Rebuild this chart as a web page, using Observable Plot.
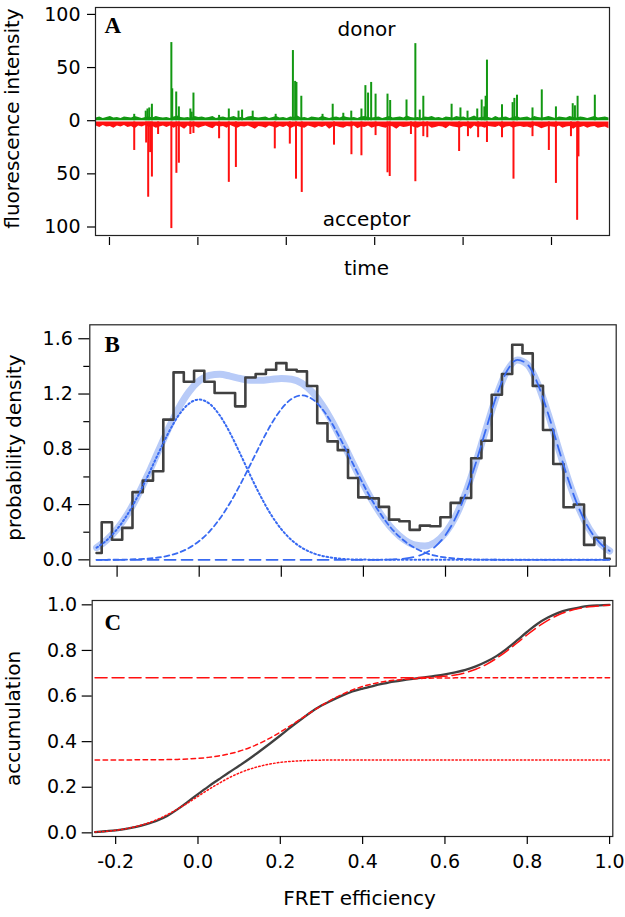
<!DOCTYPE html>
<html><head><meta charset="utf-8">
<script src="https://cdn.jsdelivr.net/npm/d3@7"></script>
<script src="https://cdn.jsdelivr.net/npm/@observablehq/plot@0.6"></script>
<style>
body{margin:0;background:#fff;}
#chart{width:625px;height:917px;position:relative;overflow:hidden;background:#fff;}
#chart svg{display:block;position:absolute;left:0;}
</style></head><body><div id="chart"></div>
<script>
// ---------- Panel A : time trace ----------
const timeTicks = [0, 100, 200, 300, 400, 500];
const intensityTicks = [100, 50, 0, -50, -100];
const noiseStart = -15, noiseStep = 4;
const donorNoise = [
2.5,3.5,2,3,4,2.5,3,2,3.5,3, 2.5,4,3,2,3,3.5,2.5,4,3,2.5, 3,2,3.5,4.5,3,2.5,3,2,4,3,
3.5,2.5,3,4,2,3,3.5,2.5,3,4, 2.5,3,2,3.5,4,3,2.5,3,3.5,2, 3,4,2.5,3,2,3.5,3,4.5,2.5,3,
2,3.5,3,2.5,4,3,2,3,3.5,2.5, 4,3,2.5,3,2,3.5,4,3,2.5,3, 3.5,2,3,4,2.5,3,3.5,2.5,4.5,3,
2.5,3,2,3.5,3,4,2.5,3,2,3.5, 3,2.5,4,3,3.5,2,3,4.5,2.5,3, 3.5,3,2,4,2.5,3,3.5,2,3,4,
2.5,3,3.5,2,4,3,2.5,3,4,3, 2,3.5,3,2.5,4,3,2.5,3.5,3,2, 3,4,2.5,3,3.5,2.5];
const acceptorNoise = [
-5,-6.5,-4.5,-6,-5.5,-7,-5,-6,-4.5,-6.5, -5.5,-7.5,-5,-6,-4.5,-6.5,-5.5,-7,-6,-5,
-6.5,-5,-7,-5.5,-6,-8,-5,-6.5,-5.5,-7, -6,-5,-6.5,-7.5,-5,-6,-5.5,-7,-4.5,-6,
-7,-5.5,-6,-5,-6.5,-8,-5.5,-6,-7,-5, -6,-7,-5.5,-6.5,-5,-7.5,-6,-5.5,-6.5,-7,
-5,-6,-7,-5.5,-6.5,-5,-8,-6,-5.5,-6.5, -7,-5.5,-6,-5,-7.5,-6,-6.5,-5,-7,-6,
-5.5,-6.5,-7,-5,-6,-8,-5.5,-6.5,-6,-5, -6.5,-7,-5.5,-6,-5,-7,-6.5,-5.5,-6,-7.5,
-5,-6,-6.5,-7,-5.5,-6,-8,-5,-6.5,-6, -7,-5.5,-6,-6.5,-5,-7.5,-6,-5.5,-7,-6,
-5.5,-6.5,-6,-7,-5,-6,-7.5,-6.5,-5.5,-6, -6.5,-5,-7,-6,-5.5,-8,-6,-6.5,-5.5,-7,
-6,-5.5,-7,-6.5,-6,-7.5];
const donorSpikeTime = [28,41,43,45,48,70,71,75.5,78.5,91.5,93,95,124,135,146,150,162,188,207.5,210,211.5,217,241,252.5,264.5,273.5,285,289.5,292.5,296,301,314.5,317.5,336,346,351,355,387,397,405,416,421,424,425.5,427,444,456,458,461,478.5,489,505,524,526.5,529.5,549];
const donorSpikeHeight = [6,9,11,12,15.5,73.5,30,27,13,11,8,26,5,11,9,10,9,6,66,37,36,23,6,15.5,7,9,11,33,26,36,25,25,19,19.5,72.5,10,23,15.5,12,9,11,19.5,13,23,57,15,17,21,24,12,29,13,16,14,23,24];
const acceptorSpikeTime = [28,41.5,43.8,46,48,55,70,75.7,78.5,91.5,95,124,135,143,187,204,211,217.5,254,273.7,285,301,314.5,317,341,346,355,359.5,395.5,405.5,417,427,444,457,478.5,497,505,522,529,530.5];
const acceptorSpikeHeight = [28,21,72,30,53,13,101.5,49.5,40,13,12,17,58,44,26.5,22,55,67.5,23,32,33,14,49,52.5,13,57.4,15,16,29,15,16,20.5,16,55,15,28,59,15,93.7,34];

// ---------- Panels B, C : FRET efficiency ----------
const fretX = [-0.25,-0.225,-0.2,-0.175,-0.15,-0.125,-0.1,-0.075,-0.05,-0.025,0,0.025,0.05,0.075,0.1,0.125,0.15,0.175,0.2,0.225,0.25,0.275,0.3,0.325,0.35,0.375,0.4,0.425,0.45,0.475,0.5,0.525,0.55,0.575,0.6,0.625,0.65,0.675,0.7,0.725,0.75,0.775,0.8,0.825,0.85,0.875,0.9,0.925,0.95,0.975,1.0];
const histDensity = [0.05,0.272,0.145,0.231,0.49,0.573,0.641,1.015,1.357,1.289,1.369,1.289,1.207,1.207,1.111,1.32,1.345,1.376,1.424,1.376,1.364,1.258,0.989,0.857,0.794,0.592,0.452,0.445,0.383,0.291,0.279,0.217,0.248,0.243,0.308,0.412,0.448,0.735,0.862,1.195,1.345,1.557,1.494,1.259,0.94,0.694,0.381,0.4,0.108,0.159,0.007];
const fitTotal = [0.088,0.144,0.223,0.329,0.463,0.617,0.784,0.949,1.098,1.216,1.296,1.335,1.343,1.330,1.312,1.300,1.299,1.306,1.313,1.307,1.278,1.215,1.119,0.994,0.848,0.695,0.547,0.412,0.298,0.209,0.145,0.108,0.100,0.126,0.196,0.316,0.492,0.714,0.960,1.193,1.368,1.447,1.413,1.272,1.057,0.810,0.572,0.373,0.224,0.125,0.064];
const fitG1 = [0.088,0.143,0.222,0.327,0.458,0.608,0.767,0.919,1.046,1.130,1.16,1.130,1.046,0.919,0.767,0.608,0.458,0.327,0.222,0.143,0.088,0.051,0.028,0.015,0.007,0.003,0.002,0.001,0,0,0,0,0,0,0,0,0,0,0,0,0,0,0,0,0,0,0,0,0,0,0];
const fitG2 = [0.0002,0.0005,0.001,0.002,0.005,0.009,0.017,0.030,0.052,0.086,0.136,0.205,0.297,0.411,0.545,0.692,0.841,0.979,1.091,1.164,1.19,1.164,1.091,0.979,0.841,0.692,0.545,0.411,0.297,0.205,0.136,0.086,0.052,0.030,0.017,0.009,0.005,0.002,0.001,0.0005,0.0002,0,0,0,0,0,0,0,0,0,0];
const fitG3 = [0,0,0,0,0,0,0,0,0,0,0,0,0,0,0,0,0,0,0,0,0,0,0,0,0,0,0,0,0.001,0.004,0.009,0.022,0.048,0.096,0.179,0.307,0.487,0.712,0.959,1.193,1.368,1.447,1.413,1.272,1.057,0.810,0.572,0.373,0.224,0.125,0.064];
const dataCdf = [0.003,0.007,0.011,0.017,0.026,0.038,0.053,0.074,0.103,0.136,0.170,0.203,0.234,0.265,0.294,0.325,0.358,0.392,0.427,0.463,0.497,0.530,0.558,0.581,0.602,0.620,0.633,0.644,0.654,0.663,0.670,0.676,0.682,0.688,0.695,0.704,0.715,0.730,0.750,0.775,0.807,0.844,0.882,0.917,0.944,0.965,0.979,0.988,0.995,0.998,1.000];
const cdfG1 = [0.004,0.0065,0.011,0.018,0.028,0.041,0.058,0.079,0.104,0.131,0.16,0.189,0.216,0.241,0.262,0.279,0.292,0.302,0.309,0.3135,0.316,0.318,0.319,0.3195,0.3198,0.32,0.32,0.32,0.32,0.32,0.32,0.32,0.32,0.32,0.32,0.32,0.32,0.32,0.32,0.32,0.32,0.32,0.32,0.32,0.32,0.32,0.32,0.32,0.32,0.32,0.32];
const cdfG12 = [0.32,0.32,0.32,0.32,0.3201,0.3203,0.3206,0.3212,0.3222,0.324,0.3267,0.331,0.3372,0.346,0.358,0.3735,0.3928,0.4158,0.4419,0.4703,0.50,0.5297,0.5581,0.5842,0.6072,0.6265,0.642,0.6539,0.6628,0.6691,0.6733,0.676,0.6778,0.6788,0.6794,0.6797,0.6799,0.68,0.68,0.68,0.68,0.68,0.68,0.68,0.68,0.68,0.68,0.68,0.68,0.68,0.68];
const cdfG123 = [0.68,0.68,0.68,0.68,0.68,0.68,0.68,0.68,0.68,0.68,0.68,0.68,0.68,0.68,0.68,0.68,0.68,0.68,0.68,0.68,0.68,0.68,0.68,0.68,0.68,0.68,0.68,0.68,0.68,0.6801,0.6802,0.6806,0.6814,0.6832,0.6865,0.6925,0.7023,0.7172,0.7381,0.7651,0.7973,0.8327,0.8688,0.9025,0.9318,0.9552,0.9724,0.9841,0.9915,0.9957,0.998];
const fretTicks = [-0.2, 0, 0.2, 0.4, 0.6, 0.8, 1.0];
const densityTicks = [0, 0.4, 0.8, 1.2, 1.6];
const densityMinorTicks = [0.2, 0.6, 1.0, 1.4];
const accumTicks = [0, 0.2, 0.4, 0.6, 0.8, 1.0];

// ---------- build ----------
const font = "'DejaVu Sans', 'Liberation Sans', Arial, sans-serif";
const serif = "'Liberation Serif', 'Times New Roman', serif";
const baseStyle = {fontFamily: font, fontSize: "19px", background: "white", color: "black", overflow: "visible"};
const green = "#129812", red = "#ff1010", blue = "#386af2", lightBlue = "#b8cbf8", dark = "#404040";
const labelSize = 20;

const donorRows = donorNoise.map((v, i) => ({t: noiseStart + noiseStep * i, v}));
const acceptorRows = acceptorNoise.map((v, i) => ({t: noiseStart + noiseStep * i, v}));
const donorSpikes = donorSpikeTime.map((t, i) => ({t, v: donorSpikeHeight[i]}));
const acceptorSpikes = acceptorSpikeTime.map((t, i) => ({t, v: -acceptorSpikeHeight[i]}));

const plotA = Plot.plot({
  width: 625, height: 280,
  marginTop: 7, marginBottom: 45, marginLeft: 95, marginRight: 16,
  style: baseStyle,
  x: {domain: [-15.8, 565.6]},
  y: {domain: [-108, 106.5]},
  marks: [
    Plot.area(donorRows, {x1: "t", y1: 0, y2: "v", fill: green}),
    Plot.area(acceptorRows, {x1: "t", y1: -1.2, y2: "v", fill: red}),
    Plot.ruleX(donorSpikes, {x: "t", y1: 0, y2: "v", stroke: green, strokeWidth: 2}),
    Plot.ruleX(acceptorSpikes, {x: "t", y1: -1.2, y2: "v", stroke: red, strokeWidth: 2}),
    Plot.frame({stroke: "#222", strokeWidth: 1.2}),
    Plot.axisY({ticks: intensityTicks, tickSize: 8, tickPadding: 7, tickFormat: d => Math.abs(d), label: null, strokeWidth: 1.2}),
    Plot.axisX({ticks: timeTicks, tickSize: 8, dy: 2, tickFormat: () => "", label: null, strokeWidth: 1.2}),
    Plot.text(["A"], {text: d => d, frameAnchor: "top-left", dx: 9, dy: 25, lineAnchor: "bottom", textAnchor: "start", fontFamily: serif, fontWeight: "bold", fontSize: 23}),
    Plot.text(["donor"], {text: d => d, frameAnchor: "top", dx: 14, dy: 28, lineAnchor: "bottom", fontSize: labelSize}),
    Plot.text(["acceptor"], {text: d => d, frameAnchor: "bottom", dx: 14, dy: -9.5, lineAnchor: "bottom", fontSize: labelSize}),
    Plot.text(["time"], {text: d => d, frameAnchor: "bottom", dx: 14, dy: 39, lineAnchor: "bottom", fontSize: labelSize}),
    Plot.text(["fluorescence intensity"], {text: d => d, frameAnchor: "left", rotate: -90, dx: -83, dy: -3, lineAnchor: "middle", textAnchor: "middle", fontSize: labelSize})
  ]
});

const fretRows = fretX.map((x, i) => ({x, hist: histDensity[i], total: fitTotal[i], g1: fitG1[i], g2: fitG2[i], g3: fitG3[i],
  cdf: dataCdf[i], c1: cdfG1[i], c12: cdfG12[i], c123: cdfG123[i]}));

const plotB = Plot.plot({
  width: 625, height: 300,
  marginTop: 44.3, marginBottom: 14.3, marginLeft: 89.3, marginRight: 9.3,
  style: baseStyle,
  x: {domain: [-0.2665, 1.0158]},
  y: {domain: [-0.046, 1.701]},
  marks: [
    Plot.line(fretRows, {x: "x", y: "total", stroke: lightBlue, strokeWidth: 7, curve: "monotone-x", strokeLinecap: "round"}),
    Plot.line(fretRows, {x: "x", y: "hist", stroke: dark, strokeWidth: 2.6, curve: "step"}),
    Plot.line(fretRows, {x: "x", y: "g1", stroke: blue, strokeWidth: 2, strokeDasharray: "1.6,2.6", curve: "monotone-x"}),
    Plot.line(fretRows, {x: "x", y: "g2", stroke: blue, strokeWidth: 1.8, strokeDasharray: "5,3.5", curve: "monotone-x"}),
    Plot.line(fretRows, {x: "x", y: "g3", stroke: blue, strokeWidth: 1.8, strokeDasharray: "11,6", curve: "monotone-x"}),
    Plot.frame({stroke: "#222", strokeWidth: 1.2}),
    Plot.axisY({ticks: densityTicks, tickSize: 11, tickPadding: 6, tickFormat: d => d.toFixed(1), label: null, strokeWidth: 1.2}),
    Plot.axisY({ticks: densityMinorTicks, tickSize: 6, tickFormat: () => "", label: null, strokeWidth: 1.2}),
    Plot.axisX({ticks: fretTicks, tickSize: 11, tickFormat: () => "", label: null, strokeWidth: 1.2}),
    Plot.text(["B"], {text: d => d, frameAnchor: "top-left", dx: 14.7, dy: 27.5, lineAnchor: "bottom", textAnchor: "start", fontFamily: serif, fontWeight: "bold", fontSize: 23}),
    Plot.text(["probability density"], {text: d => d, frameAnchor: "left", rotate: -90, dx: -75, dy: 2, lineAnchor: "middle", textAnchor: "middle", fontSize: labelSize})
  ]
});

const plotC = Plot.plot({
  width: 625, height: 337,
  marginTop: 20, marginBottom: 81, marginLeft: 91.7, marginRight: 12.7,
  style: baseStyle,
  x: {domain: [-0.257, 1.0078]},
  y: {domain: [-0.016, 1.019]},
  marks: [
    Plot.line(fretRows, {x: "x", y: "cdf", stroke: dark, strokeWidth: 2.3, curve: "monotone-x"}),
    Plot.line(fretRows, {x: "x", y: "c1", stroke: red, strokeWidth: 1.5, strokeDasharray: "1.5,2.3", curve: "monotone-x"}),
    Plot.line(fretRows, {x: "x", y: "c12", stroke: red, strokeWidth: 1.5, strokeDasharray: "4.5,3.5", curve: "monotone-x"}),
    Plot.line(fretRows, {x: "x", y: "c123", stroke: red, strokeWidth: 1.5, strokeDasharray: "12,5", curve: "monotone-x"}),
    Plot.frame({stroke: "#222", strokeWidth: 1.2}),
    Plot.axisY({ticks: accumTicks, tickSize: 10, tickPadding: 5, tickFormat: d => d.toFixed(1), label: null, strokeWidth: 1.2}),
    Plot.axisX({ticks: fretTicks, tickSize: 8, tickPadding: 10, tickFormat: d => d.toFixed(1), label: null, strokeWidth: 1.2}),
    Plot.text(["C"], {text: d => d, frameAnchor: "top-left", dx: 12.3, dy: 29, lineAnchor: "bottom", textAnchor: "start", fontFamily: serif, fontWeight: "bold", fontSize: 23}),
    Plot.text(["accumulation"], {text: d => d, frameAnchor: "left", rotate: -90, dx: -78.7, dy: 0, lineAnchor: "middle", textAnchor: "middle", fontSize: labelSize}),
    Plot.text(["FRET efficiency"], {text: d => d, frameAnchor: "bottom", dx: 7, dy: 68, lineAnchor: "bottom", fontSize: labelSize})
  ]
});

const chart = document.getElementById("chart");
[[plotA, 0], [plotB, 280], [plotC, 580]].forEach(([svg, top]) => {
  svg.style.top = top + "px";
  chart.appendChild(svg);
});
</script></body></html>
